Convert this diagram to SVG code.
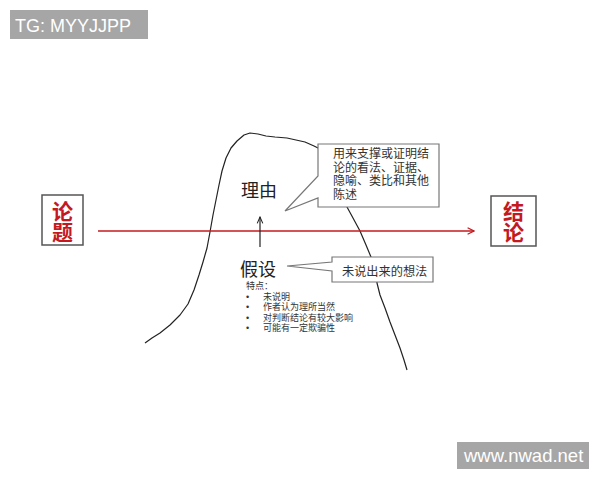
<svg xmlns="http://www.w3.org/2000/svg" width="600" height="480" viewBox="0 0 600 480">
<style>
.wm{fill:#a6a6a6}
.wmt{fill:#fff;font-family:"Liberation Sans",Arial,sans-serif}
.box{fill:#fff;stroke:#555;stroke-width:1.5}
.red{fill:#c41a1f;font-family:"Noto Sans CJK SC",sans-serif;font-weight:bold;font-size:21px;writing-mode:vertical-rl}
.cjk{font-family:"Noto Sans CJK SC",sans-serif;fill:#222}
.sm{font-family:"Liberation Sans","Noto Sans CJK SC",sans-serif;fill:#333}
.call{fill:#fff;stroke:#777;stroke-width:1.2}
</style>
<defs>
<marker id="ra" viewBox="0 0 10 10" refX="9" refY="5" markerWidth="8" markerHeight="8" orient="auto" markerUnits="userSpaceOnUse">
<path d="M1,1 L9,5 L1,9" fill="none" stroke="#c41a1f" stroke-width="1.6"/>
</marker>
<marker id="ba" viewBox="0 0 10 10" refX="9" refY="5" markerWidth="8" markerHeight="8" orient="auto" markerUnits="userSpaceOnUse">
<path d="M1,1.5 L9,5 L1,8.5" fill="none" stroke="#222" stroke-width="1.3"/>
</marker>
</defs>
<rect width="600" height="480" fill="#fff"/>
<g id="watermark-tg"><rect class="wm" x="10" y="10" width="138" height="29"/><text class="wmt" x="15" y="32" font-size="18">TG: MYYJJPP</text></g>
<g id="watermark-site"><rect class="wm" x="457" y="442" width="132" height="27"/><text class="wmt" x="464" y="462" font-size="18.5">www.nwad.net</text></g>
<g id="mountain">
<polyline fill="none" stroke="#222" stroke-width="1.2" stroke-linejoin="round" points="145,343 152,338 160,333 170,325 180,315 188,304 194,290 199,275 203,262 207,248 210,232 213,215 216,200 219,185 222,171 226,158 231,148 237,141 244,135 250,133 258,134 266,136 275,137 287,138 296,140 305,142 314,146 322,150 332,175 340,195 347,207 353,218 360,231 366,245 371,257 375,270 377,283 380,295 385,308 390,322 395,335 400,348 404,360 407,370"/>
</g>
<g id="connectors">
<line x1="98" y1="231" x2="474" y2="231" stroke="#c41a1f" stroke-width="1.5" marker-end="url(#ra)"/>
<line x1="260" y1="247" x2="260" y2="217" stroke="#222" stroke-width="1.2" marker-end="url(#ba)"/>
</g>
<g id="node-lunti"><rect class="box" x="42" y="195" width="41" height="50"/><text class="red" x="62.5" y="201">论题</text></g>
<g id="node-jielun"><rect class="box" x="491" y="196" width="45" height="50"/><text class="red" x="513.5" y="201" font-size="22">结论</text></g>
<g id="node-liyou"><text class="cjk" x="259" y="197" font-size="18" text-anchor="middle">理由</text></g>
<g id="node-jiashe"><text class="cjk" x="258" y="276" font-size="18" text-anchor="middle">假设</text>
<text class="sm" font-size="9">
<tspan x="246" y="289">特点：</tspan>
<tspan x="246" y="299.5">•</tspan><tspan x="263" y="299.5">未说明</tspan>
<tspan x="246" y="310">•</tspan><tspan x="263" y="310">作者认为理所当然</tspan>
<tspan x="246" y="320.5">•</tspan><tspan x="263" y="320.5">对判断结论有较大影响</tspan>
<tspan x="246" y="331">•</tspan><tspan x="263" y="331">可能有一定欺骗性</tspan>
</text></g>
<g id="callout-liyou">
<path class="call" d="M318,144 H439 V207 H318 V198 L285,211 L318,176 Z"/>
<text class="sm" font-size="12">
<tspan x="333" y="158">用来支撑或证明结</tspan>
<tspan x="333" y="171.5">论的看法、证据、</tspan>
<tspan x="333" y="185">隐喻、类比和其他</tspan>
<tspan x="333" y="198.5">陈述</tspan>
</text></g>
<g id="callout-jiashe">
<path class="call" d="M332,257 H433 V282 H332 V271 L287,266 L332,262 Z"/>
<text class="sm" x="342" y="276" font-size="12.2">未说出来的想法</text>
</g>
</svg>
